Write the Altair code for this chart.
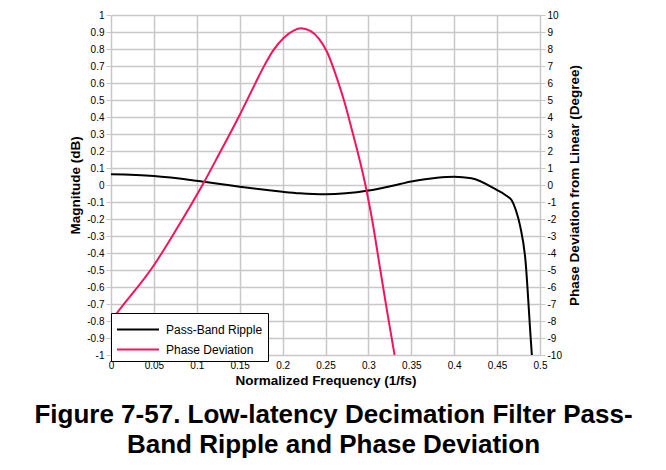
import altair as alt
import pandas as pd

# ---- data ----
freq_mag = [0.0, 0.05, 0.1, 0.125, 0.15, 0.2, 0.22, 0.25, 0.3, 0.337, 0.35, 0.38,
            0.4, 0.42, 0.45, 0.46, 0.467, 0.472, 0.477, 0.483, 0.489, 0.4905]
magnitude = [0.063, 0.053, 0.025, 0.008, -0.01, -0.04, -0.049, -0.055, -0.033, 0.006,
             0.02, 0.043, 0.049, 0.04, -0.03, -0.06, -0.09, -0.15, -0.245, -0.44, -0.89, -1.0]

freq_ph = [0.0, 0.0073, 0.0516, 0.071, 0.1087, 0.1254, 0.15, 0.1682, 0.1779, 0.1895,
           0.2012, 0.2128, 0.2214, 0.2323, 0.242, 0.2517, 0.2634, 0.2731, 0.2789,
           0.2965, 0.3042, 0.3139, 0.3217, 0.3305]
phase = [-8.0, -7.51, -4.6, -3.04, 0.19, 1.76, 4.12, 5.98, 6.95, 7.95,
         8.65, 9.08, 9.22, 9.06, 8.63, 7.84, 6.27, 4.7, 3.6,
         0.0, -2.0, -5.0, -7.4, -10.0]

series = ["Pass-Band Ripple", "Phase Deviation"]
colors = ["#000000", "#F5145A"]

x_ticks = [0, 0.05, 0.1, 0.15, 0.2, 0.25, 0.3, 0.35, 0.4, 0.45, 0.5]
mag_ticks = [-1, -0.9, -0.8, -0.7, -0.6, -0.5, -0.4, -0.3, -0.2, -0.1, 0,
             0.1, 0.2, 0.3, 0.4, 0.5, 0.6, 0.7, 0.8, 0.9, 1]
ph_ticks = [-10, -9, -8, -7, -6, -5, -4, -3, -2, -1, 0, 1, 2, 3, 4, 5, 6, 7, 8, 9, 10]

title_lines = ["Figure 7-57. Low-latency Decimation Filter Pass-",
               "Band Ripple and Phase Deviation"]

mag_df = pd.DataFrame({"f": freq_mag, "v": magnitude, "s": series[0]})
ph_df = pd.DataFrame({"f": freq_ph, "v": phase, "s": series[1]})

FONT = "Liberation Sans"
GRID = "#C8C8C8"
AX = dict(labelFont=FONT, labelFontSize=10, labelColor="black", labelFlush=False,
          titleFont=FONT, titleFontSize=13.5, titleFontWeight="bold", titleColor="black")

x_enc = alt.X(
    "f:Q",
    scale=alt.Scale(domain=[0, 0.5], nice=False, zero=False),
    axis=alt.Axis(values=x_ticks, title="Normalized Frequency (1/fs)",
                  labelExpr="'' + datum.value", grid=True, gridColor=GRID,
                  gridWidth=1.5, domain=False, ticks=False, labelPadding=5,
                  titlePadding=3, **AX),
)

color_enc = alt.Color(
    "s:N",
    scale=alt.Scale(domain=series, range=colors),
    legend=alt.Legend(title=None, orient="none", legendX=0, legendY=298,
                      symbolType="M-1,0H3", symbolSize=441, symbolStrokeWidth=2,
                      labelFontSize=12, labelFont=FONT, labelColor="black",
                      strokeColor="black", fillColor="white",
                      padding=5, rowPadding=2, labelOffset=27),
)

mag_line = alt.Chart(mag_df).mark_line(strokeWidth=2, interpolate="monotone", clip=True).encode(
    x=x_enc,
    y=alt.Y("v:Q", scale=alt.Scale(domain=[-1, 1], nice=False),
            axis=alt.Axis(values=mag_ticks, title="Magnitude (dB)", orient="left",
                          labelExpr="'' + datum.value", grid=True, gridColor=GRID,
                          gridWidth=1.5, domain=False, tickColor=GRID, tickSize=5,
                          labelPadding=2, titlePadding=4, **AX)),
    color=color_enc,
)

ph_line = alt.Chart(ph_df).mark_line(strokeWidth=2, interpolate="monotone", clip=True).encode(
    x=x_enc,
    y=alt.Y("v:Q", scale=alt.Scale(domain=[-10, 10], nice=False),
            axis=alt.Axis(values=ph_ticks, title="Phase Deviation from Linear (Degree)",
                          orient="right", labelExpr="'' + datum.value", grid=False,
                          domain=False, tickColor=GRID, tickSize=5, labelPadding=2,
                          titlePadding=20, titleAngle=270, **AX)),
    color=color_enc,
)

chart = (
    alt.layer(mag_line, ph_line)
    .resolve_scale(y="independent")
    .properties(
        width=429, height=340,
        autosize=alt.AutoSizeParams(type="none"),
        padding={"left": 103, "top": 7, "right": 118, "bottom": 107},
        title=alt.TitleParams(text=title_lines, orient="bottom", anchor="middle",
                              font=FONT, fontSize=26, fontWeight="bold",
                              color="black", lineHeight=30, offset=15, dx=8),
    )
    .configure_view(stroke="black", strokeWidth=2)
    .configure_legend(strokeWidth=2)
    .configure(background="white")
)

chart.save("out.html", embed_options={"renderer": "svg", "actions": False})
